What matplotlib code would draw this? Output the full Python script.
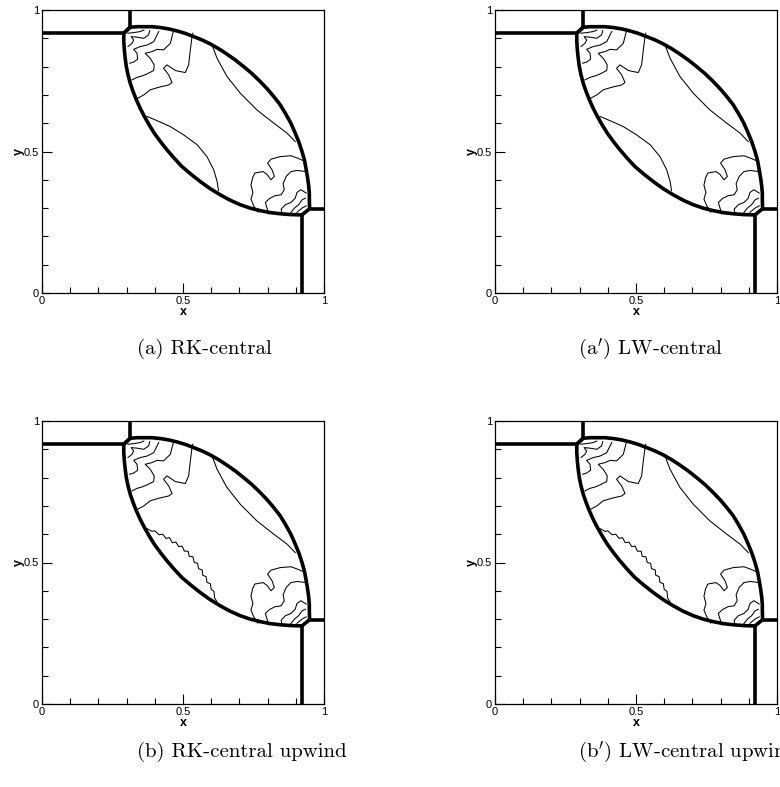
import numpy as np
import matplotlib
matplotlib.use("Agg")
import matplotlib.pyplot as plt
from matplotlib.ticker import MultipleLocator, FixedLocator

plt.rcParams["mathtext.fontset"] = "cm"

# --- thick shock lines (x, y in domain units) ---
wall_top_x = [0.313, 0.313]
wall_top_y = [0.940, 1.0]
wall_left_x = [0.0, 0.290]
wall_left_y = [0.918, 0.918]
wall_right_x = [0.949, 1.0]
wall_right_y = [0.298, 0.298]
wall_bottom_x = [0.922, 0.922]
wall_bottom_y = [0.276, 0.0]

upper_arc_x = [0.290, 0.313, 0.337, 0.361, 0.390, 0.420, 0.450, 0.479, 0.509, 0.538,
               0.568, 0.597, 0.627, 0.656, 0.686, 0.715, 0.745, 0.774, 0.799, 0.822,
               0.844, 0.863, 0.882, 0.898, 0.911, 0.922, 0.931, 0.937, 0.942, 0.946,
               0.948, 0.948, 0.949]
upper_arc_y = [0.918, 0.939, 0.941, 0.941, 0.941, 0.938, 0.933, 0.926, 0.917, 0.906,
               0.894, 0.880, 0.863, 0.844, 0.823, 0.800, 0.775, 0.747, 0.721, 0.694,
               0.666, 0.635, 0.601, 0.565, 0.533, 0.500, 0.468, 0.435, 0.406, 0.376,
               0.352, 0.329, 0.298]
lower_arc_x = [0.313, 0.290, 0.290, 0.292, 0.295, 0.299, 0.305, 0.313, 0.323, 0.335,
               0.348, 0.363, 0.380, 0.398, 0.420, 0.443, 0.469, 0.496, 0.528, 0.561,
               0.596, 0.632, 0.667, 0.703, 0.738, 0.774, 0.810, 0.845, 0.884, 0.922,
               0.949]
lower_arc_y = [0.940, 0.918, 0.889, 0.859, 0.830, 0.800, 0.771, 0.741, 0.712, 0.682,
               0.653, 0.624, 0.594, 0.565, 0.535, 0.506, 0.476, 0.447, 0.420, 0.394,
               0.369, 0.347, 0.328, 0.312, 0.300, 0.291, 0.284, 0.280, 0.277, 0.276,
               0.298]

# --- thin contour lines, upper-left fan ---
fan_ul = [
    ([0.304, 0.325, 0.349, 0.361], [0.918, 0.920, 0.924, 0.929]),
    ([0.305, 0.319, 0.325, 0.316, 0.337, 0.361, 0.378, 0.382],
     [0.871, 0.882, 0.894, 0.906, 0.904, 0.900, 0.912, 0.927]),
    ([0.311, 0.325, 0.339, 0.337, 0.325, 0.349, 0.372, 0.396, 0.408, 0.414],
     [0.812, 0.816, 0.826, 0.847, 0.861, 0.871, 0.876, 0.888, 0.912, 0.924]),
    ([0.319, 0.337, 0.355, 0.372, 0.396, 0.398, 0.384, 0.366, 0.390, 0.408, 0.431, 0.455, 0.461, 0.465],
     [0.753, 0.762, 0.767, 0.774, 0.786, 0.806, 0.829, 0.847, 0.853, 0.861, 0.859, 0.882, 0.906, 0.921]),
    ([0.339, 0.361, 0.384, 0.414, 0.449, 0.461, 0.449, 0.431, 0.443, 0.473, 0.508, 0.520, 0.526, 0.532, 0.535],
     [0.688, 0.700, 0.718, 0.727, 0.735, 0.744, 0.771, 0.794, 0.806, 0.786, 0.779, 0.806, 0.859, 0.906, 0.918]),
]

# --- thin contour lines, lower-right fan ---
fan_lr = [
    ([0.765, 0.751, 0.741, 0.748, 0.741, 0.747, 0.755, 0.784, 0.798, 0.812, 0.824, 0.816,
      0.800, 0.812, 0.845, 0.883, 0.910, 0.930],
     [0.286, 0.308, 0.332, 0.355, 0.381, 0.408, 0.424, 0.429, 0.419, 0.400, 0.412, 0.435,
      0.459, 0.473, 0.482, 0.485, 0.475, 0.466]),
    ([0.804, 0.798, 0.792, 0.807, 0.827, 0.848, 0.859, 0.855, 0.866, 0.883, 0.904, 0.937],
     [0.280, 0.300, 0.320, 0.334, 0.344, 0.347, 0.365, 0.386, 0.412, 0.429, 0.433, 0.429]),
    ([0.851, 0.848, 0.863, 0.883, 0.898, 0.904, 0.918, 0.937],
     [0.280, 0.296, 0.312, 0.320, 0.335, 0.355, 0.365, 0.353]),
    ([0.881, 0.895, 0.910, 0.922, 0.934], [0.282, 0.300, 0.312, 0.329, 0.335]),
    ([0.904, 0.922, 0.937], [0.285, 0.300, 0.308]),
]

# --- long contours across the lens ---
long_upper_x = [0.603, 0.621, 0.656, 0.703, 0.762, 0.822, 0.869, 0.898]
long_upper_y = [0.876, 0.829, 0.765, 0.706, 0.647, 0.600, 0.565, 0.535]
long_lower_x = [0.372, 0.408, 0.455, 0.502, 0.550, 0.585, 0.609, 0.621, 0.626]
long_lower_y = [0.624, 0.609, 0.588, 0.559, 0.524, 0.482, 0.435, 0.394, 0.362]
# upwind runs give a ragged version of the lower contour
long_lower_wavy_x = [0.372, 0.390, 0.400, 0.415, 0.428, 0.440, 0.452, 0.462, 0.475, 0.485,
                     0.497, 0.505, 0.518, 0.522, 0.535, 0.540, 0.552, 0.555, 0.568, 0.570,
                     0.582, 0.585, 0.597, 0.600, 0.610, 0.612, 0.620]
long_lower_wavy_y = [0.620, 0.610, 0.612, 0.598, 0.600, 0.585, 0.588, 0.570, 0.572, 0.556,
                     0.558, 0.540, 0.540, 0.522, 0.520, 0.500, 0.497, 0.478, 0.474, 0.455,
                     0.450, 0.430, 0.425, 0.405, 0.398, 0.375, 0.362]

captions = [r"(a) RK-central", r"(a$'$) LW-central",
            r"(b) RK-central upwind", r"(b$'$) LW-central upwind"]

W, H = 780, 787
# axes boxes in pixels: left, top, right, bottom
boxes = [(42, 10, 324, 293), (495, 10, 777, 293),
         (42, 421, 324, 704), (495, 421, 777, 704)]
caption_xy = [(137, 349), (578, 349), (137, 752), (578, 752)]

fig = plt.figure(figsize=(W / 100, H / 100), dpi=100)

for i, (l, t, r, b) in enumerate(boxes):
    ax = fig.add_axes([l / W, (H - b) / H, (r - l) / W, (b - t) / H])
    thick = dict(color="black", lw=2.6, solid_capstyle="butt", solid_joinstyle="round")
    thin = dict(color="black", lw=0.75)
    for xs, ys in [(wall_top_x, wall_top_y), (wall_left_x, wall_left_y),
                   (wall_right_x, wall_right_y), (wall_bottom_x, wall_bottom_y),
                   (upper_arc_x, upper_arc_y), (lower_arc_x, lower_arc_y)]:
        ax.plot(xs, ys, **thick)
    for xs, ys in fan_ul + fan_lr:
        ax.plot(xs, ys, **thin)
    ax.plot(long_upper_x, long_upper_y, **thin)
    if i < 2:
        ax.plot(long_lower_x, long_lower_y, **thin)
    else:
        ax.plot(long_lower_wavy_x, long_lower_wavy_y, **thin)

    ax.set_xlim(0, 1)
    ax.set_ylim(0, 1)
    ax.xaxis.set_major_locator(FixedLocator([0, 0.5, 1]))
    ax.yaxis.set_major_locator(FixedLocator([0, 0.5, 1]))
    ax.xaxis.set_minor_locator(MultipleLocator(0.1))
    ax.yaxis.set_minor_locator(MultipleLocator(0.1))
    ax.set_xticklabels(["0", "0.5", "1"])
    ax.set_yticklabels(["0", "0.5", "1"])
    ax.tick_params(which="major", direction="in", length=7, width=0.8,
                   labelsize=8, pad=2, top=False, right=False)
    ax.tick_params(which="minor", direction="in", length=4, width=0.8,
                   top=False, right=False)
    for lab in ax.get_xticklabels() + ax.get_yticklabels():
        lab.set_family("Liberation Sans")
    for s in ax.spines.values():
        s.set_linewidth(0.9)
    ax.set_xlabel("x", fontsize=9, fontweight="bold", family="Liberation Sans", labelpad=0)
    ax.set_ylabel("y", fontsize=9, fontweight="bold", family="Liberation Sans", labelpad=-1)

    cx, cy = caption_xy[i]
    fig.text(cx / W, 1 - cy / H, captions[i], ha="left", va="center",
             fontsize=15, family="cmr10")

fig.savefig("out.png", dpi=100)
